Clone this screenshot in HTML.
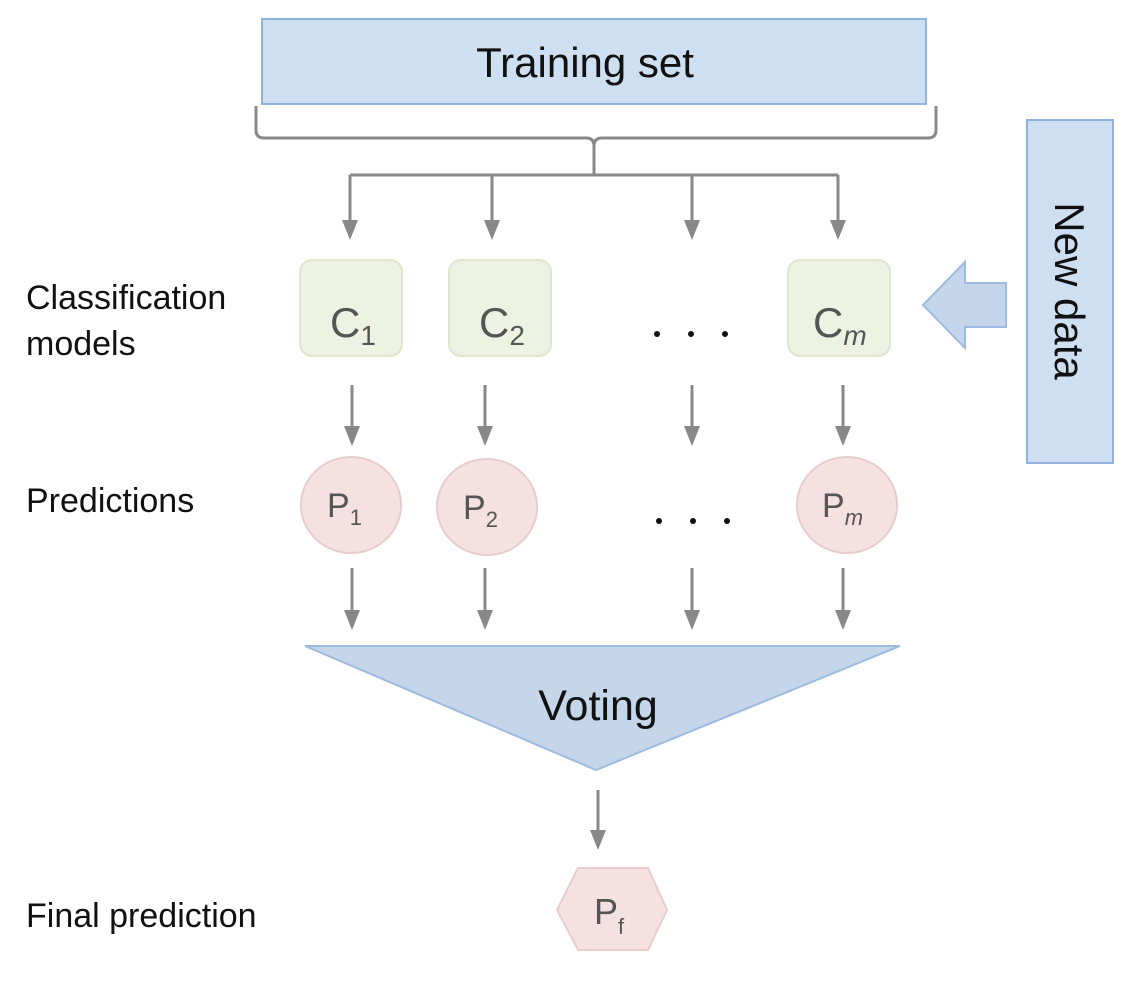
<!DOCTYPE html>
<html><head><meta charset="utf-8"><style>
html,body{margin:0;padding:0;background:#fff;}
svg{display:block;}
text{font-family:"Liberation Sans",sans-serif;}
</style></head><body>
<svg width="1141" height="1000" viewBox="0 0 1141 1000" xmlns="http://www.w3.org/2000/svg">
<!-- Training set -->
<rect x="262" y="19" width="664" height="85" fill="#cfdff2" stroke="#8fb1dc" stroke-width="2"/>
<text x="585" y="77" font-size="42" text-anchor="middle" fill="#111">Training set</text>
<!-- brace -->
<path d="M256 106 V130 Q256 138 264 138 H586 Q594 138 594 146 V175 M594 146 Q594 138 602 138 H928 Q936 138 936 130 V106" fill="none" stroke="#888" stroke-width="3"/>
<path d="M350 175 H838" stroke="#888" stroke-width="3"/>
<g stroke="#888" stroke-width="3" fill="#888">
<line x1="350" y1="175" x2="350" y2="222"/><polygon points="342,220 358,220 350,240" stroke="none"/>
<line x1="492" y1="175" x2="492" y2="222"/><polygon points="484,220 500,220 492,240" stroke="none"/>
<line x1="692" y1="175" x2="692" y2="222"/><polygon points="684,220 700,220 692,240" stroke="none"/>
<line x1="838" y1="175" x2="838" y2="222"/><polygon points="830,220 846,220 838,240" stroke="none"/>
</g>
<!-- C boxes -->
<g fill="#eef2e3" stroke="#dfe5cf" stroke-width="2">
<rect x="300" y="260" width="102" height="96" rx="12"/>
<rect x="449" y="260" width="102" height="96" rx="12"/>
<rect x="788" y="260" width="102" height="96" rx="12"/>
</g>
<g fill="#555" font-size="42">
<text x="330" y="337">C<tspan font-size="28" dy="8">1</tspan></text>
<text x="479" y="337">C<tspan font-size="28" dy="8">2</tspan></text>
<text x="813" y="337">C<tspan font-size="28" dy="8" font-style="italic">m</tspan></text>
</g>
<g fill="#111"><circle cx="657" cy="334" r="3"/><circle cx="691" cy="334" r="3"/><circle cx="725" cy="334" r="3"/>
<circle cx="659" cy="521" r="3"/><circle cx="693" cy="521" r="3"/><circle cx="727" cy="521" r="3"/></g>
<!-- arrows C->P -->
<g stroke="#888" stroke-width="3" fill="#888">
<line x1="352" y1="385" x2="352" y2="428"/><polygon points="344,426 360,426 352,446" stroke="none"/>
<line x1="485" y1="385" x2="485" y2="428"/><polygon points="477,426 493,426 485,446" stroke="none"/>
<line x1="692" y1="385" x2="692" y2="428"/><polygon points="684,426 700,426 692,446" stroke="none"/>
<line x1="843" y1="385" x2="843" y2="428"/><polygon points="835,426 851,426 843,446" stroke="none"/>
</g>
<!-- P ellipses -->
<g fill="#f5e1e1" stroke="#e8cccc" stroke-width="2">
<ellipse cx="351" cy="505" rx="50" ry="48"/>
<ellipse cx="487" cy="507" rx="50" ry="48"/>
<ellipse cx="847" cy="505" rx="50" ry="48"/>
</g>
<g fill="#555" font-size="34">
<text x="327" y="517">P<tspan font-size="22" dy="8">1</tspan></text>
<text x="463" y="519">P<tspan font-size="22" dy="8">2</tspan></text>
<text x="822" y="517">P<tspan font-size="22" dy="8" font-style="italic">m</tspan></text>
</g>
<!-- arrows P->Voting -->
<g stroke="#888" stroke-width="3" fill="#888">
<line x1="352" y1="568" x2="352" y2="612"/><polygon points="344,610 360,610 352,630" stroke="none"/>
<line x1="485" y1="568" x2="485" y2="612"/><polygon points="477,610 493,610 485,630" stroke="none"/>
<line x1="692" y1="568" x2="692" y2="612"/><polygon points="684,610 700,610 692,630" stroke="none"/>
<line x1="843" y1="568" x2="843" y2="612"/><polygon points="835,610 851,610 843,630" stroke="none"/>
</g>
<!-- Voting -->
<polygon points="305,646 900,646 596,770" fill="#c5d6ea" stroke="#9dbbe0" stroke-width="2"/>
<text x="598" y="720" font-size="43" text-anchor="middle" fill="#111">Voting</text>
<g stroke="#888" stroke-width="3" fill="#888">
<line x1="598" y1="790" x2="598" y2="832"/><polygon points="590,830 606,830 598,850" stroke="none"/>
</g>
<!-- hexagon -->
<polygon points="578,868 648,868 667,910 648,950 578,950 557,910" fill="#f5e1e1" stroke="#e8cccc" stroke-width="2"/>
<text x="594" y="924" font-size="36" fill="#555">P<tspan font-size="22" dy="10">f</tspan></text>
<!-- New data -->
<rect x="1027" y="120" width="86" height="343" fill="#cfdff2" stroke="#8fb1dc" stroke-width="2"/>
<text transform="translate(1055,291) rotate(90)" font-size="42" text-anchor="middle" fill="#111">New data</text>
<polygon points="1006,283 965,283 965,262 923,305 965,348 965,327 1006,327" fill="#c5d6ea" stroke="#9dbbe0" stroke-width="2"/>
<!-- labels -->
<g font-size="34" fill="#111">
<text x="26" y="309">Classification</text>
<text x="26" y="355">models</text>
<text x="26" y="512">Predictions</text>
<text x="26" y="927">Final prediction</text>
</g>
</svg>
</body></html>
